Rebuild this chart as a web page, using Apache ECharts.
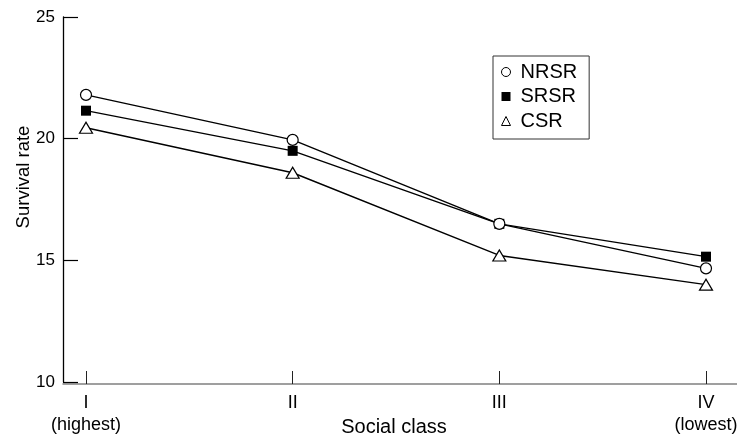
<!DOCTYPE html>
<html>
<head>
<meta charset="utf-8">
<script src="https://cdn.jsdelivr.net/npm/echarts@6/dist/echarts.min.js"></script>
<style>
html,body{margin:0;padding:0;background:#fff;}
#chart{width:737px;height:439px;}
</style>
</head>
<body>
<div id="chart"></div>
<script>
var categories = ['I\n(highest)', 'II', 'III', 'IV\n(lowest)'];
var nrsr = [21.8, 19.95, 16.5, 14.67];
var srsr = [21.15, 19.5, 16.5, 15.15];
var csr = [20.45, 18.6, 15.2, 14.0];
var yTicks = [10, 15, 20, 25];

function pairs(arr) { return arr.map(function (v, i) { return [i, v]; }); }
var catIdx = categories.map(function (c, i) { return i; });

var FONT = 'Liberation Sans, Arial, sans-serif';
var chart = echarts.init(document.getElementById('chart'), null, {renderer: 'canvas'});
var option = {
  backgroundColor: '#fff',
  animation: false,
  grid: {left: 63, right: 0, top: 17, bottom: 57, containLabel: false, outerBoundsMode: 'none'},
  xAxis: {
    type: 'value',
    min: -0.1113,
    max: 3.15,
    offset: 2,
    name: 'Social class',
    nameLocation: 'middle',
    nameGap: 33,
    nameMoveOverlap: false,
    nameTextStyle: {fontSize: 20, color: '#000', fontFamily: FONT, padding: [0, 12, 0, 0]},
    splitLine: {show: false},
    axisLine: {show: true, onZero: false, lineStyle: {color: '#808080', width: 1.5}},
    axisTick: {show: true, inside: true, length: 13, customValues: catIdx, lineStyle: {color: '#222', width: 1}},
    axisLabel: {
      show: true, customValues: catIdx, margin: 8, fontSize: 18, color: '#000', fontFamily: FONT,
      lineHeight: 22,
      formatter: function (v) { return categories[Math.round(v)]; }
    }
  },
  yAxis: {
    type: 'value',
    min: 10,
    max: 25,
    interval: 5,
    name: 'Survival rate',
    nameLocation: 'middle',
    nameGap: 30,
    nameMoveOverlap: false,
    nameTextStyle: {fontSize: 18.5, color: '#000', fontFamily: FONT, padding: [0, 0, 0, 45]},
    splitLine: {show: false},
    axisLine: {show: true, onZero: false, lineStyle: {color: '#000', width: 1.3}},
    axisTick: {show: true, inside: true, length: 15, lineStyle: {color: '#000', width: 1.2}},
    axisLabel: {margin: 8, fontSize: 17, color: '#000', fontFamily: FONT,
      customValues: yTicks}
  },
  legend: {
    orient: 'vertical',
    left: 493,
    top: 56,
    padding: [6, 12, 8, 8],
    borderColor: '#333',
    borderWidth: 1,
    itemWidth: 9,
    itemHeight: 9,
    itemGap: 4.5,
    itemTextGap: 16,
    textStyle: {fontSize: 20, color: '#000', fontFamily: FONT, lineHeight: 20, padding: [0, 0, 0, 5]},
    data: [
      {name: 'NRSR', icon: 'circle', itemStyle: {color: '#fff', borderColor: '#000', borderWidth: 1}},
      {name: 'SRSR', icon: 'rect', itemStyle: {color: '#000', borderColor: '#000', borderWidth: 0}},
      {name: 'CSR', icon: 'triangle', itemStyle: {color: '#fff', borderColor: '#000', borderWidth: 1}}
    ]
  },
  series: [
    {
      name: 'CSR', type: 'line', data: pairs(csr), z: 2,
      symbol: 'triangle', symbolSize: [13, 11],
      lineStyle: {color: '#000', width: 1.4},
      itemStyle: {color: '#fff', borderColor: '#000', borderWidth: 1.2}
    },
    {
      name: 'SRSR', type: 'line', data: pairs(srsr), z: 3,
      symbol: 'rect', symbolSize: 10,
      lineStyle: {color: '#000', width: 1.4},
      itemStyle: {color: '#000', borderColor: '#000', borderWidth: 0}
    },
    {
      name: 'NRSR', type: 'line', data: pairs(nrsr), z: 4,
      symbol: 'circle', symbolSize: 11,
      lineStyle: {color: '#000', width: 1.4},
      itemStyle: {color: '#fff', borderColor: '#000', borderWidth: 1.2}
    }
  ]
};
chart.setOption(option);
</script>
</body>
</html>
